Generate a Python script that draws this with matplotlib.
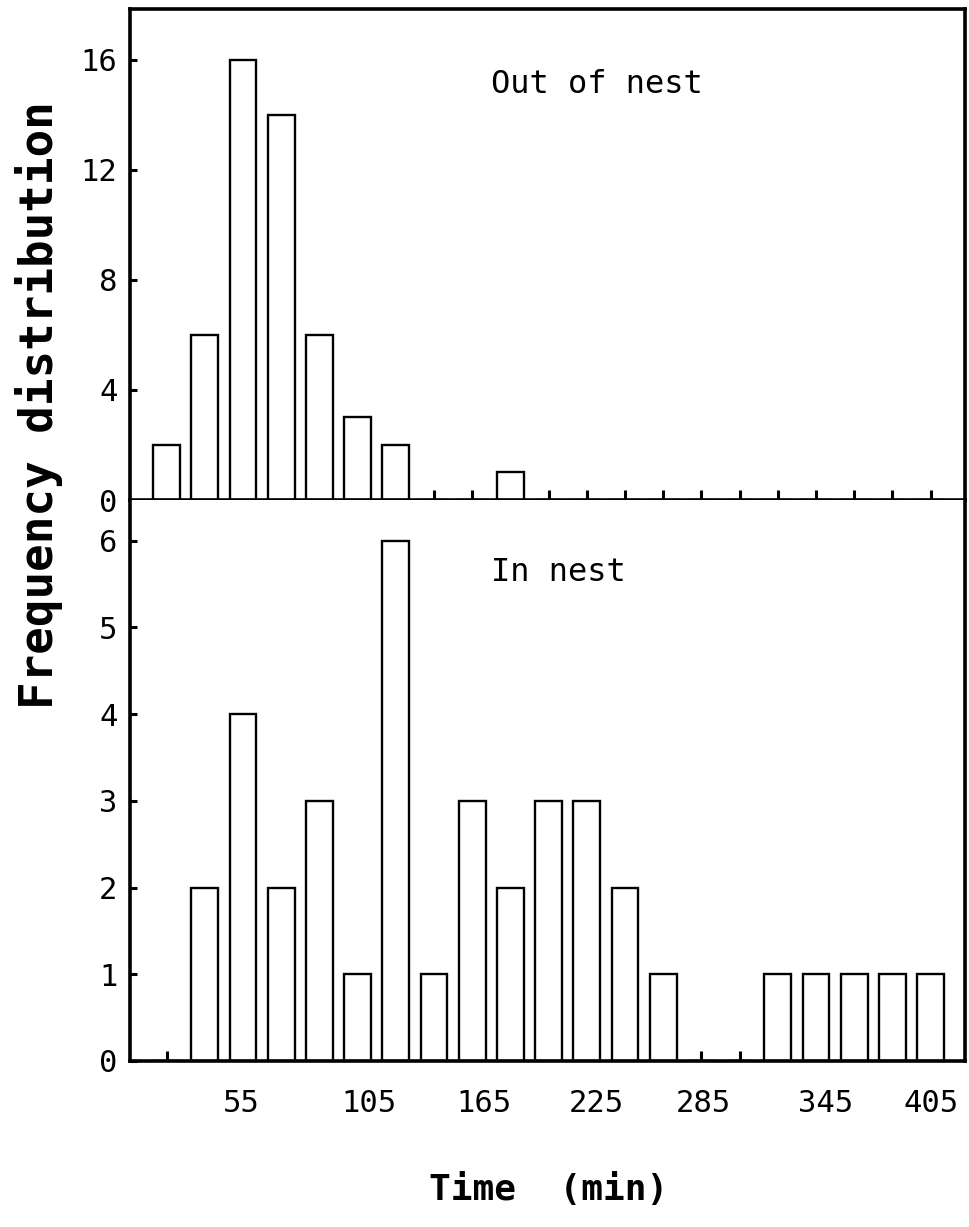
# %% Imports

import matplotlib

matplotlib.use("Agg")
import matplotlib.pyplot as plt

# %% Data (one bin per bar)

bins = list(range(1, 22))
out_of_nest = [2, 6, 16, 14, 6, 3, 2, 0, 0, 1, 0, 0, 0, 0, 0, 0, 0, 0, 0, 0, 0]
in_nest = [0, 2, 4, 2, 3, 1, 6, 1, 3, 2, 3, 3, 2, 1, 0, 0, 1, 1, 1, 1, 1]

time_labels = ["55", "105", "165", "225", "285", "345", "405"]
# where the printed labels sit, in bin units (they are not evenly spaced)
time_label_pos = [2.95, 6.3, 9.3, 12.25, 15.05, 18.25, 21.0]

top_yticks = [0, 4, 8, 12, 16]
bottom_yticks = [0, 1, 2, 3, 4, 5, 6]

# %% Plot

plt.rcParams["font.family"] = ["DejaVu Sans Mono", "DejaVu Sans"]

fig = plt.figure(figsize=(9.7, 12.27), dpi=100)
ax_top = fig.add_axes([130 / 970, 1 - 500 / 1227, 835 / 970, 491 / 1227])
ax_bot = fig.add_axes([130 / 970, 1 - 1061 / 1227, 835 / 970, 561 / 1227], sharex=ax_top)

bar_kw = dict(width=0.7, color="white", edgecolor="black", linewidth=1.7, zorder=2)
ax_top.bar(bins, out_of_nest, **bar_kw)
ax_bot.bar(bins, in_nest, **bar_kw)

ax_top.set_xlim(0.04, 21.9)
ax_top.set_ylim(0, 17.85)
ax_bot.set_ylim(0, 6.47)

for ax in (ax_top, ax_bot):
    for side in ax.spines.values():
        side.set_linewidth(2.6)
        side.set_zorder(3)
    ax.set_xticks(bins)
    ax.tick_params(axis="both", which="major", direction="in", width=2.2,
                   labelsize=22, pad=9)
    ax.tick_params(axis="x", which="major", length=7, labelbottom=False)
    ax.tick_params(axis="y", which="major", length=5)

ax_bot.spines["top"].set_visible(False)

ax_top.set_yticks(top_yticks)
ax_bot.set_yticks(bottom_yticks)

# label ticks may land on a bin tick (405 sits on the last bin), keep them anyway
ax_bot.xaxis.remove_overlapping_locs = False
ax_bot.set_xticks(time_label_pos, minor=True)
ax_bot.set_xticklabels(time_labels, minor=True)
ax_bot.tick_params(axis="x", which="minor", length=0, labelsize=22, pad=20,
                   labelbottom=True)

ax_top.text(9.5, 15.1, "Out of nest", fontsize=23, ha="left", va="center")
ax_bot.text(9.5, 5.63, "In nest", fontsize=23, ha="left", va="center")

fig.text(39 / 970, 1 - 405 / 1227, "Frequency distribution", rotation=90,
         fontsize=33, fontweight="bold", ha="center", va="center")
fig.text(549 / 970, 1 - 1190 / 1227, "Time  (min)", fontsize=26,
         fontweight="bold", ha="center", va="center")

fig.savefig("out.png", dpi=100)
